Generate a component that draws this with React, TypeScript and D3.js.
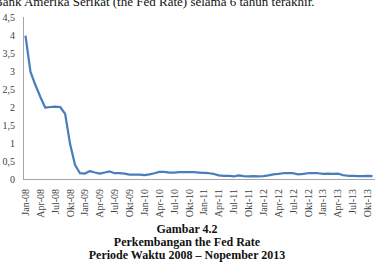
import * as d3 from "d3";

// Monthly Fed rate, Jan 2008 .. Nov 2013 (percent)
const months = [
  "Jan-08", "Feb-08", "Mar-08", "Apr-08", "Mei-08", "Jun-08", "Jul-08", "Agu-08", "Sep-08", "Okt-08", "Nop-08", "Des-08",
  "Jan-09", "Feb-09", "Mar-09", "Apr-09", "Mei-09", "Jun-09", "Jul-09", "Agu-09", "Sep-09", "Okt-09", "Nop-09", "Des-09",
  "Jan-10", "Feb-10", "Mar-10", "Apr-10", "Mei-10", "Jun-10", "Jul-10", "Agu-10", "Sep-10", "Okt-10", "Nop-10", "Des-10",
  "Jan-11", "Feb-11", "Mar-11", "Apr-11", "Mei-11", "Jun-11", "Jul-11", "Agu-11", "Sep-11", "Okt-11", "Nop-11", "Des-11",
  "Jan-12", "Feb-12", "Mar-12", "Apr-12", "Mei-12", "Jun-12", "Jul-12", "Agu-12", "Sep-12", "Okt-12", "Nop-12", "Des-12",
  "Jan-13", "Feb-13", "Mar-13", "Apr-13", "Mei-13", "Jun-13", "Jul-13", "Agu-13", "Sep-13", "Okt-13", "Nop-13",
];

const fedRate = [
  3.98, 2.98, 2.61, 2.28, 1.98, 2.0, 2.01, 2.0, 1.81, 0.97, 0.39, 0.16,
  0.15, 0.22, 0.18, 0.15, 0.18, 0.21, 0.16, 0.16, 0.15, 0.12, 0.12, 0.12,
  0.11, 0.13, 0.16, 0.2, 0.2, 0.18, 0.18, 0.19, 0.19, 0.19, 0.19, 0.18,
  0.17, 0.16, 0.14, 0.1, 0.09, 0.09, 0.07, 0.1, 0.08, 0.07, 0.08, 0.07,
  0.08, 0.1, 0.13, 0.14, 0.16, 0.16, 0.16, 0.13, 0.14, 0.16, 0.16, 0.16,
  0.14, 0.15, 0.14, 0.15, 0.11, 0.09, 0.09, 0.08, 0.08, 0.09, 0.08,
];

const yTicks = [0, 0.5, 1, 1.5, 2, 2.5, 3, 3.5, 4, 4.5];

const captionLines = [
  "Gambar 4.2",
  "Perkembangan the Fed Rate",
  "Periode Waktu 2008 – Nopember 2013",
];

const W = 380;
const H = 273;
const serif = "'Liberation Serif', 'Times New Roman', serif";

export default function App() {
  const x = d3.scaleBand<string>().domain(months).range([23, 375]).padding(0);
  const y = d3.scaleLinear().domain([0, 4.5]).range([179, 17]);
  const cx = (m: string) => (x(m) ?? 0) + x.bandwidth() / 2;

  const line = d3
    .line<number>()
    .x((_, i) => cx(months[i]))
    .y((d) => y(d));

  // every third month gets a label
  const labelled = months.filter((_, i) => i % 3 === 0);

  return (
    <svg
      width={W}
      height={H}
      style={{ position: "absolute", left: 0, top: 0, background: "#fff" }}
      fontFamily={serif}
    >
      {/* cut-off sentence from the page above */}
      <text x={-6} y={5.5} fontSize={13} fill="#111">
        Bank Amerika Serikat (the Fed Rate) selama 6 tahun terakhir.
      </text>

      {/* axes */}
      <line x1={23.5} x2={23.5} y1={17} y2={179.5} stroke="#a6a6a6" strokeWidth={1} />
      <line x1={23} x2={375} y1={179.5} y2={179.5} stroke="#a6a6a6" strokeWidth={1} />

      {yTicks.map((t) => (
        <text
          key={t}
          x={15}
          y={y(t)}
          dy="0.35em"
          textAnchor="end"
          fontSize={10}
          fill="#404040"
        >
          {String(t).replace(".", ",")}
        </text>
      ))}

      {labelled.map((m) => (
        <text
          key={m}
          transform={`translate(${cx(m)},189) rotate(-90)`}
          dy="0.35em"
          textAnchor="end"
          fontSize={10}
          fill="#404040"
        >
          {m}
        </text>
      ))}

      <path
        d={line(fedRate) ?? ""}
        fill="none"
        stroke="#4a7ebb"
        strokeWidth={2.25}
        strokeLinejoin="round"
      />

      {captionLines.map((c, i) => (
        <text
          key={c}
          x={187}
          y={232.5 + i * 13.3}
          textAnchor="middle"
          fontSize={12}
          fontWeight="bold"
          fill="#111"
        >
          {c}
        </text>
      ))}
    </svg>
  );
}
